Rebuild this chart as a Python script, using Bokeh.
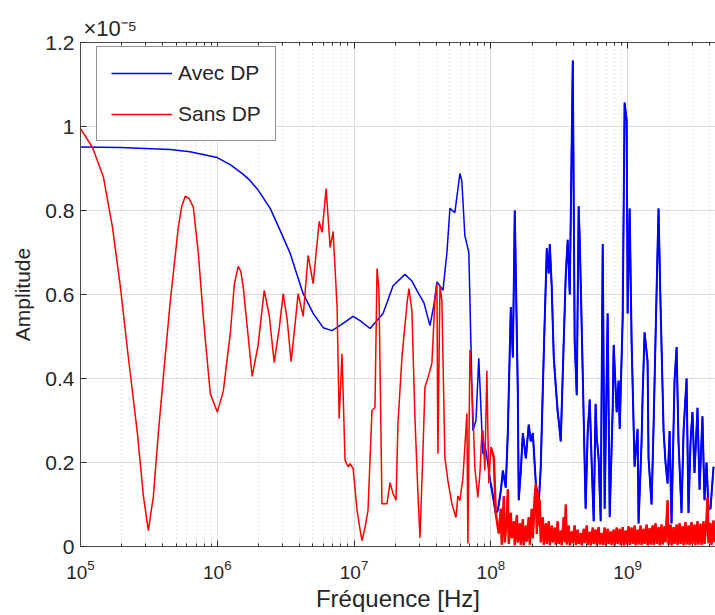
from bokeh.plotting import figure
from bokeh.models import (FixedTicker, LogAxis, NumeralTickFormatter,
                          Range1d, LogTickFormatter, CustomJSTickFormatter)
from bokeh.embed import file_html
from bokeh.resources import INLINE

# ---------------- data (frequency as log10(Hz), amplitude in units of 1e-5) ----------
AMP_UNIT_LABEL = "\u00d710\u207b\u2075"

BLUE_NAME = "Avec DP"
BLUE_LOG10_FREQ = [
    5.000, 5.292, 5.657, 5.800, 6.000, 6.100, 6.190, 6.241, 6.300, 6.387, 6.460, 6.533,
    6.580, 6.628, 6.701, 6.774, 6.839,
    6.920, 6.993, 7.044, 7.117, 7.212, 7.285, 7.372, 7.423, 7.467, 7.511, 7.555, 7.584,
    7.606, 7.650, 7.679, 7.701, 7.737, 7.774, 7.788, 7.810, 7.839, 7.869, 7.891, 7.912,
    7.942, 7.956, 8.000, 8.036, 8.051, 8.073, 8.088, 8.109, 8.124, 8.146, 8.161, 8.175,
    8.197, 8.204, 8.219, 8.234, 8.256, 8.277, 8.292, 8.307, 8.329, 8.350, 8.365, 8.387,
    8.409, 8.423, 8.431, 8.445, 8.460, 8.475, 8.489, 8.496, 8.511, 8.533, 8.548, 8.562,
    8.577, 8.599, 8.613, 8.628, 8.642, 8.650, 8.672, 8.693, 8.708, 8.723, 8.737, 8.752,
    8.766, 8.774, 8.788, 8.803, 8.818, 8.832, 8.854, 8.869, 8.891, 8.898, 8.920, 8.934,
    8.942, 8.964, 8.978, 8.993, 9.000, 9.015, 9.029, 9.051, 9.073, 9.080, 9.102, 9.109,
    9.124, 9.146, 9.153, 9.175, 9.190, 9.212, 9.226, 9.241, 9.263, 9.277, 9.292, 9.307,
    9.321, 9.343, 9.358, 9.372, 9.394, 9.409, 9.431, 9.445, 9.460, 9.474, 9.489, 9.511,
    9.526, 9.547, 9.562, 9.577, 9.591, 9.606, 9.628,
]
BLUE_AMP = [
    0.951, 0.950, 0.945, 0.940, 0.926, 0.908, 0.886, 0.871, 0.848, 0.805, 0.752, 0.698,
    0.650, 0.602, 0.555, 0.521, 0.514,
    0.531, 0.548, 0.538, 0.519, 0.555, 0.621, 0.648, 0.632, 0.605, 0.580, 0.526, 0.575,
    0.630, 0.610, 0.700, 0.805, 0.795, 0.888, 0.870, 0.740, 0.700, 0.276, 0.300, 0.448,
    0.220, 0.245, 0.150, 0.079, 0.086, 0.133, 0.181, 0.140, 0.270, 0.570, 0.450, 0.800,
    0.370, 0.110, 0.180, 0.270, 0.210, 0.290, 0.250, 0.270, 0.150, 0.100, 0.190, 0.460,
    0.710, 0.650, 0.720, 0.620, 0.450, 0.380, 0.320, 0.300, 0.250, 0.490, 0.650, 0.730,
    0.600, 1.157, 0.490, 0.360, 0.810, 0.730, 0.410, 0.090, 0.270, 0.350, 0.200, 0.060,
    0.340, 0.260, 0.210, 0.060, 0.720, 0.090, 0.555, 0.070, 0.330, 0.480, 0.320, 0.395,
    0.280, 0.545, 1.057, 1.014, 0.555, 0.805, 0.490, 0.190, 0.280, 0.055, 0.250, 0.350,
    0.510, 0.440, 0.210, 0.100, 0.290, 0.610, 0.805, 0.570, 0.275, 0.200, 0.150, 0.275,
    0.055, 0.395, 0.475, 0.250, 0.080, 0.275, 0.400, 0.080, 0.250, 0.320, 0.175, 0.330,
    0.135, 0.310, 0.110, 0.200, 0.090, 0.090, 0.190,
]

RED_NAME = "Sans DP"
RED_LOG10_FREQ = [
    5.000, 5.088, 5.168, 5.234, 5.292, 5.350, 5.416, 5.460, 5.496, 5.533, 5.569, 5.613,
    5.657, 5.715, 5.740, 5.766, 5.795, 5.825, 5.861, 5.898, 5.949, 6.000, 6.044, 6.095,
    6.125, 6.153, 6.172, 6.190, 6.226, 6.255, 6.299, 6.343, 6.380, 6.416, 6.453, 6.482,
    6.511, 6.540, 6.569, 6.591, 6.628, 6.664, 6.701, 6.745, 6.766, 6.796, 6.825, 6.847,
    6.876, 6.891, 6.912, 6.934, 6.956, 6.971, 6.993, 7.022, 7.044, 7.058, 7.080, 7.102,
    7.131, 7.153, 7.168, 7.182, 7.204, 7.241, 7.263, 7.285, 7.307, 7.321, 7.350, 7.387,
    7.401, 7.423, 7.445, 7.467, 7.482, 7.504, 7.518, 7.540, 7.569, 7.591, 7.606, 7.613,
    7.628, 7.642, 7.664, 7.686, 7.715, 7.745, 7.759, 7.774, 7.796, 7.825, 7.832, 7.847,
    7.869, 7.883, 7.905, 7.920, 7.934, 7.942, 7.956, 7.971, 7.985, 8.000, 8.022, 8.036,
    8.058,
    8.073, 8.080, 8.095, 8.102, 8.117, 8.124, 8.131, 8.146, 8.153, 8.168, 8.175, 8.190,
    8.197, 8.212, 8.219, 8.234, 8.241, 8.256, 8.263, 8.277, 8.285, 8.299, 8.307, 8.321,
    8.329, 8.336, 8.343, 8.350, 8.358, 8.365, 8.380, 8.387, 8.402, 8.409, 8.423, 8.431,
    8.445, 8.453, 8.467, 8.475, 8.489, 8.496, 8.511, 8.518, 8.533, 8.540, 8.548, 8.555,
    8.569, 8.577, 8.591, 8.599, 8.613, 8.621, 8.635, 8.642, 8.657, 8.664, 8.679, 8.686,
    8.701, 8.708, 8.723, 8.730, 8.745, 8.752, 8.766, 8.774, 8.788, 8.796, 8.810, 8.818,
    8.832, 8.840, 8.854, 8.861, 8.876, 8.883, 8.898, 8.905, 8.920, 8.927, 8.942, 8.949,
    8.964, 8.971, 8.986, 8.993, 9.007, 9.015, 9.029, 9.037, 9.051, 9.058, 9.073, 9.080,
    9.095, 9.102, 9.117, 9.124, 9.139, 9.146, 9.161, 9.168, 9.183, 9.190, 9.204, 9.212,
    9.226, 9.234, 9.248, 9.256, 9.270, 9.277, 9.292, 9.299, 9.314, 9.321, 9.336, 9.343,
    9.358, 9.365, 9.380, 9.387, 9.401, 9.409, 9.423, 9.431, 9.445, 9.453, 9.467, 9.474,
    9.489, 9.496, 9.511, 9.518, 9.533, 9.540, 9.555, 9.562, 9.577, 9.584, 9.591, 9.606,
    9.613, 9.628, 9.635,
]
RED_AMP = [
    0.995, 0.950, 0.879, 0.760, 0.617, 0.450, 0.270, 0.120, 0.038, 0.120, 0.270, 0.430,
    0.586, 0.760, 0.810, 0.834, 0.828, 0.808, 0.700, 0.545, 0.364, 0.320, 0.370, 0.507,
    0.625, 0.667, 0.655, 0.617, 0.500, 0.405, 0.480, 0.610, 0.550, 0.438, 0.520, 0.602,
    0.540, 0.440, 0.530, 0.602, 0.548, 0.693, 0.626, 0.774, 0.748, 0.852, 0.712, 0.750,
    0.569, 0.305, 0.459, 0.205, 0.190, 0.197, 0.186, 0.086, 0.040, 0.014, 0.045, 0.086,
    0.324, 0.331, 0.662, 0.610, 0.102, 0.102, 0.152, 0.126, 0.110, 0.293, 0.450, 0.578,
    0.614, 0.562, 0.307, 0.126, 0.021, 0.229, 0.379, 0.402, 0.436, 0.586, 0.626, 0.221,
    0.621, 0.586, 0.212, 0.157, 0.102, 0.069, 0.120, 0.110, 0.164, 0.317, 0.007, 0.467,
    0.324, 0.188, 0.117, 0.174, 0.269, 0.276, 0.181, 0.419, 0.150, 0.236, 0.212, 0.079,
    0.031,
    0.090, 0.004, 0.120, 0.010, 0.070, 0.136, 0.006, 0.080, 0.020, 0.060, 0.003, 0.075,
    0.010, 0.055, 0.004, 0.065, 0.003, 0.050, 0.012, 0.070, 0.004, 0.090, 0.020, 0.120,
    0.150, 0.030, 0.130, 0.050, 0.110, 0.010, 0.070, 0.004, 0.055, 0.006, 0.060, 0.003,
    0.050, 0.010, 0.045, 0.004, 0.060, 0.006, 0.038, 0.003, 0.070, 0.010, 0.100, 0.005,
    0.050, 0.003, 0.036, 0.008, 0.050, 0.004, 0.040, 0.006, 0.032, 0.003, 0.042, 0.008,
    0.050, 0.004, 0.035, 0.003, 0.045, 0.006, 0.040, 0.003, 0.046, 0.005, 0.032, 0.004,
    0.045, 0.003, 0.042, 0.006, 0.036, 0.004, 0.040, 0.003, 0.045, 0.006, 0.042, 0.004,
    0.046, 0.003, 0.038, 0.005, 0.048, 0.004, 0.045, 0.006, 0.050, 0.003, 0.040, 0.005,
    0.050, 0.004, 0.042, 0.006, 0.052, 0.003, 0.044, 0.005, 0.050, 0.004, 0.055, 0.006,
    0.046, 0.003, 0.052, 0.005, 0.048, 0.010, 0.110, 0.004, 0.052, 0.003, 0.046, 0.006,
    0.052, 0.004, 0.056, 0.006, 0.048, 0.003, 0.058, 0.005, 0.050, 0.004, 0.058, 0.006,
    0.052, 0.003, 0.060, 0.005, 0.054, 0.004, 0.060, 0.006, 0.062, 0.117, 0.008, 0.056,
    0.004, 0.062, 0.010,
]

X_TICKS = [1e5, 1e6, 1e7, 1e8, 1e9]
Y_TICKS = [0, 0.2, 0.4, 0.6, 0.8, 1.0, 1.2]
X_MIN, X_MAX = 1e5, 4.39e9
Y_MIN, Y_MAX = 0, 1.2
X_LABEL = "Fréquence [Hz]"
Y_LABEL = "Amplitude"
NOISY_FROM_LOG10 = 8.0   # above 100 MHz the measured spectra are noisy (drawn a bit heavier)

# ---------------- figure ----------------
FONT = "Liberation Sans"
TXT = "#262626"

blue_f = [10 ** v for v in BLUE_LOG10_FREQ]
red_f = [10 ** v for v in RED_LOG10_FREQ]
bi = next(i for i, v in enumerate(BLUE_LOG10_FREQ) if v >= NOISY_FROM_LOG10)
ri = next(i for i, v in enumerate(RED_LOG10_FREQ) if v >= NOISY_FROM_LOG10)
minor = [m * 10 ** e for e in range(5, 10) for m in range(2, 10)]

p = figure(width=715, height=615, x_axis_type="log",
           x_range=Range1d(X_MIN, X_MAX), y_range=Range1d(Y_MIN, Y_MAX),
           output_backend="svg", toolbar_location=None,
           min_border_left=80, min_border_right=0, min_border_top=42, min_border_bottom=69)
p.outline_line_color = None
p.background_fill_color = "white"
p.border_fill_color = "white"

p.line(blue_f, BLUE_AMP, line_color="#0000ff", line_width=1.5, legend_label=BLUE_NAME)
p.line(blue_f[bi:], BLUE_AMP[bi:], line_color="#0000ff", line_width=2.0)
p.line(red_f, RED_AMP, line_color="#ff0000", line_width=1.5, legend_label=RED_NAME)
p.line(red_f[ri:], RED_AMP[ri:], line_color="#ff0000", line_width=2.4)

# title used as the axis multiplier
p.title.text = AMP_UNIT_LABEL
p.title.align = "left"
p.title.offset = 3
p.title.standoff = 3
p.title.text_font = FONT
p.title.text_font_size = "22px"
p.title.text_font_style = "normal"
p.title.text_color = TXT

# axes
xt = FixedTicker(ticks=X_TICKS, minor_ticks=minor)
xa = p.below[0]
xa.ticker = xt
xa.formatter = LogTickFormatter()
ya = p.left[0]
ya.ticker = FixedTicker(ticks=Y_TICKS)
ya.formatter = NumeralTickFormatter(format="0.[0]")

for ax in (xa, ya):
    ax.axis_line_color = "#4a4a4a"
    ax.axis_line_width = 1
    ax.major_tick_line_color = "#262626"
    ax.minor_tick_line_color = "#262626"
    ax.major_tick_in = 6
    ax.major_tick_out = 0
    ax.minor_tick_in = 3
    ax.minor_tick_out = 0
    ax.major_label_text_font = FONT
    ax.major_label_text_color = TXT
    ax.axis_label_text_font = FONT
    ax.axis_label_text_color = TXT
    ax.axis_label_text_font_style = "normal"

ya.minor_tick_line_color = None
ya.major_label_text_font_size = "21px"
ya.major_label_standoff = 6
ya.axis_label = Y_LABEL
ya.axis_label_text_font_size = "21px"
ya.axis_label_standoff = 8
xa.major_label_text_font_size = "19px"
xa.major_label_standoff = 13
xa.axis_label = X_LABEL
xa.axis_label_text_font_size = "24px"
xa.axis_label_standoff = 3

top = LogAxis(ticker=xt, formatter=CustomJSTickFormatter(code="return ''"),
              axis_line_color="#4a4a4a",
              major_tick_line_color="#262626", minor_tick_line_color="#262626",
              major_tick_in=6, major_tick_out=0, minor_tick_in=3, minor_tick_out=0,
              major_label_standoff=0)
p.add_layout(top, "above")

# grids
p.xgrid.ticker = xt
p.xgrid.grid_line_color = "#dcdcdc"
p.xgrid.minor_grid_line_color = "#c8c8c8"
p.xgrid.minor_grid_line_dash = "1 3"
p.ygrid.ticker = FixedTicker(ticks=Y_TICKS)
p.ygrid.grid_line_color = "#dcdcdc"

# legend
lg = p.legend[0]
lg.location = (16, 405)
lg.label_text_font = FONT
lg.label_text_font_size = "21px"
lg.label_text_color = TXT
lg.label_height = 24
lg.glyph_height = 24
lg.glyph_width = 61
lg.label_standoff = 6
lg.spacing = 17
lg.padding = 14
lg.margin = 0
lg.border_line_color = "#262626"
lg.border_line_width = 1
lg.background_fill_color = "white"
lg.background_fill_alpha = 1

open("out.html", "w").write(file_html(p, INLINE))
